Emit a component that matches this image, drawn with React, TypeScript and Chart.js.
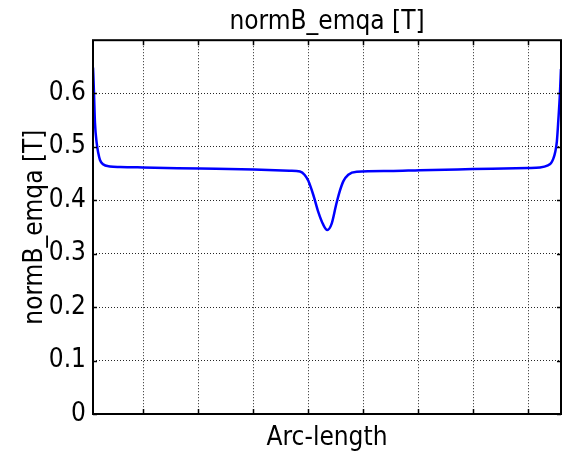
import React, { useEffect, useRef } from "react";
import { Chart, registerables } from "chart.js";

Chart.register(...registerables);

// Arc-length positions (arbitrary length units) and field magnitude [T]
const arcLength = [
  0, 0.005, 0.018, 0.036, 0.067, 0.096, 0.127, 0.182, 0.309, 0.491, 0.909,
  1.945, 2.927, 3.582, 3.764, 3.85, 3.915, 4.005, 4.096, 4.187, 4.26, 4.34,
  4.418, 4.478, 4.551, 4.642, 4.795, 5.4, 5.945, 6.909, 7.909, 8.127, 8.273,
  8.327, 8.369, 8.405, 8.435, 8.462, 8.491, 8.509,
];
const normB = [
  0.648, 0.637, 0.6, 0.544, 0.507, 0.488, 0.475, 0.467, 0.463, 0.462, 0.461,
  0.459, 0.457, 0.455, 0.4535, 0.447, 0.436, 0.41, 0.378, 0.354, 0.344, 0.356,
  0.39, 0.4136, 0.435, 0.4475, 0.453, 0.4545, 0.456, 0.458, 0.46, 0.461, 0.465,
  0.469, 0.477, 0.49, 0.51, 0.55, 0.6, 0.645,
];
const xGridTicks = [0.915, 1.915, 2.915, 3.915, 4.915, 5.915, 6.915, 7.915];
const xMin = 0;
const xMax = 8.51;
const yMin = 0;
const yMax = 0.699;
const yStep = 0.1;

const FONT = "'DejaVu Sans Condensed', 'DejaVu Sans', sans-serif";

const framePlugin = {
  id: "frame",
  afterDatasetsDraw(chart: any) {
    const { ctx, chartArea, scales } = chart;
    const { left, right, top, bottom } = chartArea;
    ctx.save();
    ctx.strokeStyle = "#000";
    ctx.lineWidth = 2;
    ctx.strokeRect(left, top, right - left, bottom - top);
    ctx.lineWidth = 1.5;
    ctx.beginPath();
    scales.x.ticks.forEach((t: any) => {
      const px = Math.round(scales.x.getPixelForValue(t.value)) + 0.5;
      ctx.moveTo(px, top);
      ctx.lineTo(px, top + 5);
      ctx.moveTo(px, bottom);
      ctx.lineTo(px, bottom - 5);
    });
    scales.y.ticks.forEach((t: any) => {
      const py = Math.round(scales.y.getPixelForValue(t.value)) + 0.5;
      ctx.moveTo(left, py);
      ctx.lineTo(left + 4, py);
      ctx.moveTo(right, py);
      ctx.lineTo(right - 4, py);
    });
    ctx.stroke();
    ctx.restore();
  },
};

export default function App() {
  const ref = useRef<HTMLCanvasElement | null>(null);

  useEffect(() => {
    if (!ref.current) return;
    Chart.defaults.color = "#000";
    const points = arcLength.map((x, i) => ({ x, y: normB[i] }));
    const chart = new Chart(ref.current, {
      type: "line",
      data: {
        datasets: [
          {
            data: points,
            borderColor: "#0000ff",
            borderWidth: 2.5,
            pointRadius: 0,
            cubicInterpolationMode: "monotone",
            fill: false,
          },
        ],
      },
      options: {
        animation: false,
        responsive: false,
        layout: { padding: { left: 0, right: 3, top: 0, bottom: 0 } },
        plugins: {
          legend: { display: false },
          tooltip: { enabled: false },
          title: {
            display: true,
            fullSize: false,
            text: "normB_emqa [T]",
            color: "#000",
            font: { family: FONT, size: 26, weight: "normal" },
            padding: { top: 7, bottom: 2 },
          },
        },
        scales: {
          x: {
            type: "linear",
            min: xMin,
            max: xMax,
            afterBuildTicks: (scale: any) => {
              scale.ticks = xGridTicks.map((v) => ({ value: v }));
            },
            afterFit: (scale: any) => {
              scale.height = 40;
            },
            ticks: { display: false },
            grid: {
              color: "rgba(0,0,0,0.85)",
              lineWidth: 1,
              drawTicks: false,
            },
            border: { display: false, dash: [1, 2] },
            title: {
              display: true,
              text: "Arc-length",
              color: "#000",
              font: { family: FONT, size: 26, weight: "normal" },
              padding: { top: 0, bottom: 0 },
            },
          },
          y: {
            type: "linear",
            min: yMin,
            max: yMax,
            afterFit: (scale: any) => {
              scale.width = 93;
            },
            ticks: {
              stepSize: yStep,
              includeBounds: false,
              padding: 7,
              color: "#000",
              font: { family: FONT, size: 26, weight: "normal" },
              callback: (v: any) => (Number(v) === 0 ? "0" : Number(v).toFixed(1)),
            },
            grid: {
              color: "rgba(0,0,0,0.85)",
              lineWidth: 1,
              drawTicks: false,
            },
            border: { display: false, dash: [1, 2] },
            title: {
              display: true,
              text: "normB_emqa [T]",
              color: "#000",
              font: { family: FONT, size: 26, weight: "normal" },
              padding: { top: 20, bottom: 0 },
            },
          },
        },
      },
      plugins: [framePlugin],
    });
    return () => chart.destroy();
  }, []);

  return (
    <div style={{ position: "fixed", left: 0, top: 0, width: 564, height: 454, background: "#fff" }}>
      <canvas ref={ref} width={564} height={454} style={{ display: "block" }} />
    </div>
  );
}
